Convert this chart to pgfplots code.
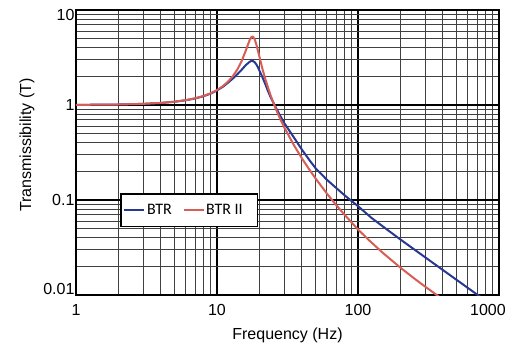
\documentclass[border=0pt]{standalone}
\usepackage{pgfplots}
\pgfplotsset{compat=1.18}
\usepackage{fontspec}
\setmainfont{Liberation Sans}
\newfontfamily\legfont{Carlito}
\definecolor{btrblue}{RGB}{40,56,145}
\definecolor{btrred}{RGB}{214,94,86}
\begin{document}
\begin{tikzpicture}[font=\fontsize{16bp}{19bp}\selectfont]
\begin{axis}[
  at={(0,0)}, anchor=south west,
  scale only axis, width=423bp, height=285bp,
  xmode=log, ymode=log,
  xmin=1, xmax=1000, ymin=0.01, ymax=10,
  xtick={1,10,100,1000},
  xticklabels={1,10,100,{\hspace*{-22bp}1000}},
  ytick={0.01,0.1,1,10},
  yticklabels={{\raisebox{6bp}{0.01}},0.1,1,{\raisebox{-5bp}{10}}},
  /pgf/number format/assume math mode=true,
  tick label style={font=\fontsize{16bp}{19bp}\selectfont},
  xticklabel style={yshift=-6bp},
  yticklabel style={anchor=base east, yshift=-5.7bp, xshift=2bp},
  major tick length=0pt, minor tick length=0pt,
  grid=both,
  major grid style={black, line width=1.1bp},
  minor grid style={black!75, line width=1.1bp},
  axis line style={black, line width=1.4bp},
  xlabel={Frequency (Hz)},
  ylabel={Transmissibility (T)},
  xlabel style={at={(axis description cs:0.5,0)}, anchor=center, yshift=-40bp, font=\fontsize{16bp}{19bp}\selectfont},
  ylabel style={at={(axis description cs:-0.1158,0.526)}, anchor=center, font=\fontsize{16bp}{19bp}\selectfont},
  legend style={at={(0.104,0.358)}, anchor=north west, draw=black, line width=1.6bp,
    font=\legfont\fontsize{16bp}{19bp}\selectfont, legend columns=2,
    inner xsep=3bp, inner ysep=8.5bp,
    /tikz/every even column/.append style={column sep=9bp}},
  legend image code/.code={\draw[#1, line width=1.3bp] (0bp,0bp) -- (20bp,0bp);},
  clip=true,
]
\addplot[btrblue, line width=2bp, line join=round] table {
1 1.003
2 1.0125
3 1.028
4 1.051
5 1.082
6 1.122
7 1.172
8 1.236
9 1.315
10 1.425
11 1.555
12 1.72
13 1.91
14 2.12
15 2.36
16 2.63
17 2.84
17.5 2.91
18 2.90
18.5 2.82
19 2.68
19.5 2.50
20 2.30
20.5 2.12
21 1.96
22 1.66
23 1.40
24 1.21
26 0.955
28 0.775
30 0.645
33 0.523
35 0.459
40 0.339
45 0.266
50 0.216
60 0.164
70 0.134
80 0.1127
90 0.0977
100 0.0861
125 0.0646
150 0.0527
200 0.0384
300 0.0249
400 0.01832
500 0.01445
600 0.0119
700 0.0101
800 0.00879
};
\addlegendentry{BTR}
\addplot[btrred, line width=2bp, line join=round] table {
1 1.003
2 1.0125
3 1.0285
4 1.0518
5 1.0833
6 1.1244
7 1.1769
8 1.2436
9 1.3285
10 1.4375
11 1.5792
12 1.7677
13 2.0256
14 2.3914
15 2.9303
16 3.7357
17 4.780
17.5 5.181
18 5.251
18.5 4.921
19 4.353
20 3.211
21 2.406
22 1.876
24 1.2602
26 0.9256
28 0.7196
30 0.5816
35 0.3809
40 0.2749
45 0.2108
50 0.1686
60 0.11754
70 0.08857
80 0.07034
100 0.04897
120 0.03761
150 0.02777
200 0.01940
250 0.014975
300 0.012227
400 0.00898
};
\addlegendentry{BTR II\kern10bp}
\end{axis}
\path (-76bp,-50bp) rectangle (448bp,295bp);
\end{tikzpicture}
\end{document}
